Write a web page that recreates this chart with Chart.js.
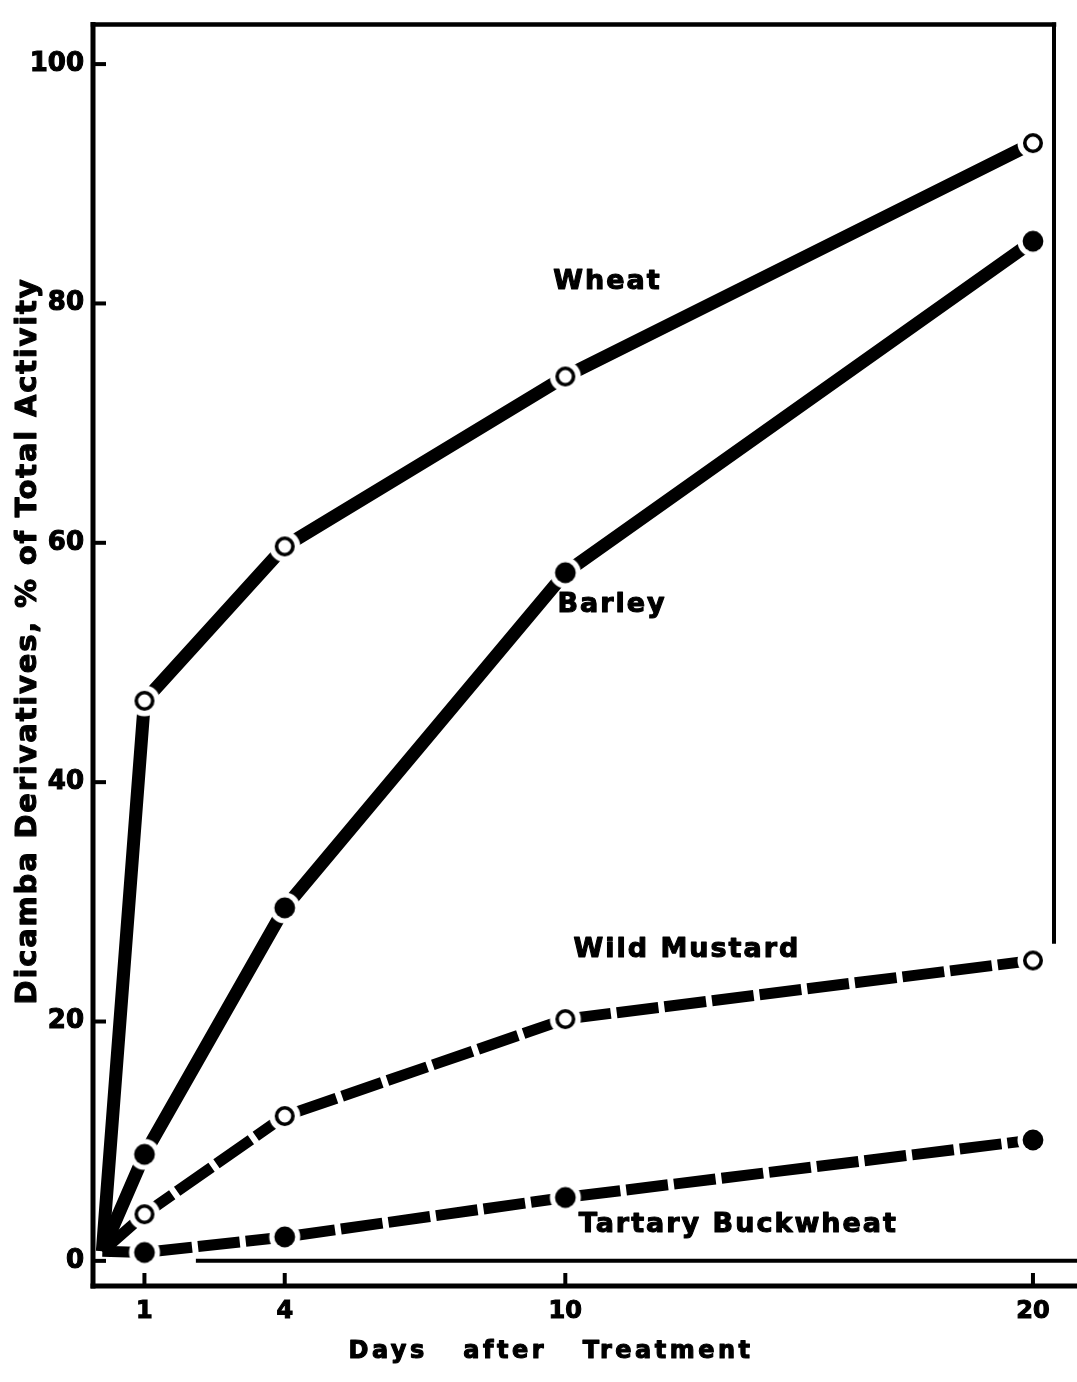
<!DOCTYPE html>
<html>
<head>
<meta charset="utf-8">
<title>Dicamba derivatives over time</title>
<script src="https://cdn.jsdelivr.net/npm/chart.js@4/dist/chart.umd.min.js"></script>
<style>
  html, body { margin: 0; padding: 0; background: #fff; }
  #wrap { width: 1077px; height: 1382px; position: relative; }
  canvas { display: block; }
</style>
</head>
<body>
<div id="wrap"><canvas id="chart" width="1077" height="1382"></canvas></div>
<script>
// Sampling days and measured percentages per species
const days = [0.1, 1, 4, 10, 20];
const wheat = [0.8, 46.8, 59.7, 73.9, 93.4];
const barley = [0.8, 8.9, 29.5, 57.5, 85.2];
const wildMustard = [0.8, 3.9, 12.1, 20.2, 25.1];
const tartaryBuckwheat = [0.8, 0.7, 2.0, 5.3, 10.1];

// Axis ticks
const xTicks = [1, 4, 10, 20];
const yTicks = [0, 20, 40, 60, 80, 100];

// Texts
const seriesNames = ['Wheat', 'Barley', 'Wild Mustard', 'Tartary Buckwheat'];
const xTitle = 'Days   after   Treatment';
const yTitle = 'Dicamba Derivatives, % of Total Activity';

// Where each series name sits, in data units (day, percent)
const nameDays = [10.9, 11.0, 12.6, 13.7];
const namePercents = [81.8, 54.8, 26.0, 3.0];

// Reference line along 0 % and the extent of the right frame edge
const baselineFromDay = 2.1;
const rightEdgeDownTo = 26.5;

const FONT = '"DejaVu Sans", "Liberation Sans", sans-serif';
const TEXT_STROKE = 1.1;
Chart.defaults.font.family = FONT;
Chart.defaults.color = '#000';

// Marker images: a white halo around an open ring or a solid dot
function makeMarker(open) {
  const size = 36, m = size / 2;
  const c = document.createElement('canvas');
  c.width = c.height = size;
  const g = c.getContext('2d');
  g.fillStyle = '#fff';
  g.beginPath(); g.arc(m, m, 15.5, 0, Math.PI * 2); g.fill();
  g.beginPath();
  if (open) {
    g.arc(m, m, 8.2, 0, Math.PI * 2);
    g.lineWidth = 3.6; g.strokeStyle = '#000'; g.stroke();
  } else {
    g.arc(m, m, 10.4, 0, Math.PI * 2);
    g.fillStyle = '#000'; g.fill();
  }
  return c;
}
const openMarker = makeMarker(true);
const solidMarker = makeMarker(false);

function series(label, values, marker, dashed) {
  return {
    label,
    data: days.map((d, i) => ({ x: d, y: values[i] })),
    borderColor: '#000',
    borderWidth: dashed ? 11 : 13,
    borderDash: dashed ? [42, 6] : [],
    borderCapStyle: 'butt',
    borderJoinStyle: 'miter',
    tension: 0,
    fill: false,
    pointStyle: marker,
    pointRadius: days.map((d, i) => (i === 0 ? 0 : 10)),
    pointHoverRadius: 0,
    clip: false
  };
}

function line(ctx, x1, y1, x2, y2, w) {
  ctx.lineWidth = w;
  ctx.beginPath(); ctx.moveTo(x1, y1); ctx.lineTo(x2, y2); ctx.stroke();
}

// Heavy lettering: fill plus a thin stroke of the same colour
function heavyText(ctx, text, x, y) {
  ctx.lineWidth = TEXT_STROKE;
  ctx.lineJoin = 'round';
  ctx.strokeText(text, x, y);
  ctx.fillText(text, x, y);
}

const framePlugin = {
  id: 'frame',
  beforeDatasetsDraw(chart) {
    const { ctx, chartArea: a, scales: { x, y } } = chart;
    ctx.save();
    ctx.strokeStyle = '#000';
    ctx.lineCap = 'square';
    line(ctx, a.left, a.top, a.left, a.bottom, 5);
    line(ctx, a.left, a.bottom, chart.width, a.bottom, 5);
    line(ctx, a.left, a.top, a.right, a.top, 4.5);
    ctx.lineCap = 'butt';
    line(ctx, a.right, a.top - 2, a.right, y.getPixelForValue(rightEdgeDownTo), 4);
    const y0 = y.getPixelForValue(0);
    line(ctx, x.getPixelForValue(baselineFromDay), y0, chart.width, y0, 4);
    yTicks.forEach(v => {
      const py = y.getPixelForValue(v);
      line(ctx, a.left, py, a.left + 13, py, 4);
    });
    xTicks.forEach(d => {
      const px = x.getPixelForValue(d);
      line(ctx, px, a.bottom, px, a.bottom - 13, 4);
    });
    ctx.restore();
  },
  afterDraw(chart) {
    const { ctx, scales: { x, y } } = chart;
    ctx.save();
    ctx.fillStyle = '#000';
    ctx.strokeStyle = '#000';
    ctx.textAlign = 'center';
    ctx.textBaseline = 'middle';

    // Series names
    ctx.font = 'bold 27px ' + FONT;
    ctx.letterSpacing = '2px';
    seriesNames.forEach((n, i) => {
      heavyText(ctx, n, x.getPixelForValue(nameDays[i]), y.getPixelForValue(namePercents[i]));
    });

    // Horizontal axis title
    ctx.font = 'bold 24px ' + FONT;
    ctx.letterSpacing = '3.5px';
    heavyText(ctx, xTitle, 551, 1352);

    // Vertical axis title
    ctx.font = 'bold 29px ' + FONT;
    ctx.letterSpacing = '1.8px';
    ctx.translate(28, 641);
    ctx.rotate(-Math.PI / 2);
    heavyText(ctx, yTitle, 0, 0);
    ctx.restore();
  }
};

new Chart(document.getElementById('chart'), {
  type: 'line',
  data: {
    datasets: [
      series(seriesNames[0], wheat, openMarker, false),
      series(seriesNames[1], barley, solidMarker, false),
      series(seriesNames[2], wildMustard, openMarker, true),
      series(seriesNames[3], tartaryBuckwheat, solidMarker, true)
    ]
  },
  options: {
    responsive: false,
    animation: false,
    events: [],
    layout: { padding: { top: 22, right: 7, left: 0, bottom: 0 } },
    plugins: { legend: { display: false }, tooltip: { enabled: false } },
    scales: {
      x: {
        type: 'linear',
        min: -0.1,
        max: 20.45,
        afterBuildTicks: s => { s.ticks = xTicks.map(v => ({ value: v })); },
        afterFit: s => { s.height = 96; },
        grid: { display: false, drawTicks: false },
        border: { display: false },
        ticks: {
          autoSkip: false,
          maxRotation: 0,
          padding: 11,
          font: { size: 24, weight: 'bold' },
          textStrokeColor: '#000',
          textStrokeWidth: TEXT_STROKE,
          callback: v => String(v)
        }
      },
      y: {
        type: 'linear',
        min: -2.1,
        max: 103.3,
        afterBuildTicks: s => { s.ticks = yTicks.map(v => ({ value: v })); },
        afterFit: s => { s.width = 93; },
        grid: { display: false, drawTicks: false },
        border: { display: false },
        ticks: {
          padding: 9,
          font: { size: 26, weight: 'bold' },
          textStrokeColor: '#000',
          textStrokeWidth: TEXT_STROKE,
          callback: v => String(v)
        }
      }
    }
  },
  plugins: [framePlugin]
});
</script>
</body>
</html>
